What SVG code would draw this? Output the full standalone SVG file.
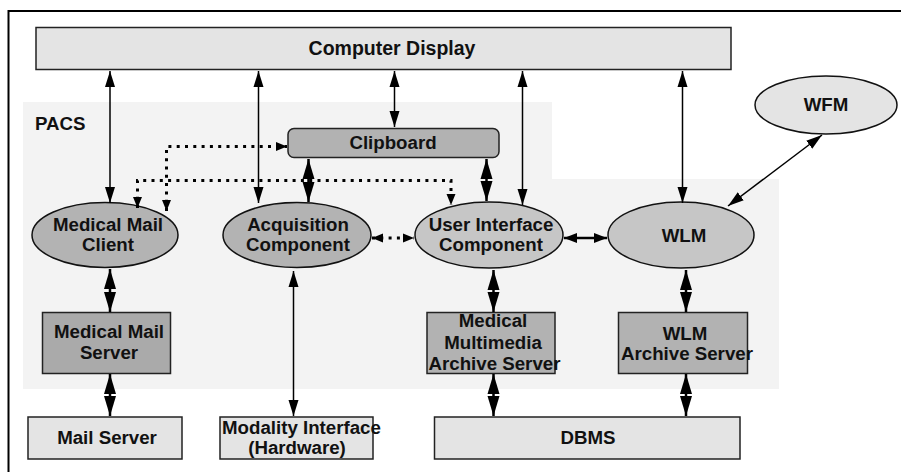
<svg xmlns="http://www.w3.org/2000/svg" width="901" height="472" viewBox="0 0 901 472">
<style>
text{font-family:"Liberation Sans",Arial,Helvetica,sans-serif;font-weight:bold;font-size:18.7px;fill:#111;text-anchor:middle}
.light{fill:#e4e4e4;stroke:#222;stroke-width:1.5}
.dark{fill:#aaaaaa;stroke:#222;stroke-width:1.5}
.mid{fill:#b2b2b2;stroke:#222;stroke-width:1.5}
.ell1{fill:#b3b3b3;stroke:#111;stroke-width:1.5}
.ell2{fill:#c6c6c6;stroke:#111;stroke-width:1.5}
.thin{stroke:#000;stroke-width:1.5;fill:none;marker-start:url(#a);marker-end:url(#a)}
.thick{stroke:#000;stroke-width:2.5;fill:none;marker-start:url(#b);marker-end:url(#b)}
.med{stroke:#000;stroke-width:2.5;fill:none;marker-start:url(#c);marker-end:url(#c)}
.dot{stroke:#000;stroke-width:3;fill:none;stroke-dasharray:3 5.3;marker-start:url(#d);marker-end:url(#d)}
</style>
<defs>
<marker id="a" markerUnits="userSpaceOnUse" markerWidth="17" markerHeight="11" refX="16" refY="5.5" orient="auto-start-reverse"><path d="M0,0.5 L16,5.5 L0,10.5 z" fill="#000"/></marker>
<marker id="b" markerUnits="userSpaceOnUse" markerWidth="21" markerHeight="13" refX="20" refY="6.5" orient="auto-start-reverse"><path d="M0,0.5 L20,6.5 L0,12.5 z" fill="#000"/></marker>
<marker id="c" markerUnits="userSpaceOnUse" markerWidth="14" markerHeight="11" refX="13" refY="5.5" orient="auto-start-reverse"><path d="M0,0.5 L13,5.5 L0,10.5 z" fill="#000"/></marker>
<marker id="d" markerUnits="userSpaceOnUse" markerWidth="12" markerHeight="11" refX="11" refY="5.5" orient="auto-start-reverse"><path d="M0,1 L11,5.5 L0,10 z" fill="#000"/></marker>
</defs>
<rect width="901" height="472" fill="#fff"/>
<path d="M8.5,472 V11 H901" fill="none" stroke="#000" stroke-width="2"/>
<g id="pacs">
<path d="M23,102 H552 V179 H779 V389 H23 z" fill="#f3f3f3"/>
<text x="35" y="130" style="text-anchor:start">PACS</text>
</g>
<g id="computer-display">
<rect class="light" x="36" y="27.5" width="695" height="42"/>
<text x="392" y="55" style="font-size:19.5px">Computer Display</text>
</g>
<g id="clipboard">
<rect class="mid" x="288" y="128.5" width="211" height="29" rx="6"/>
<text x="393" y="149">Clipboard</text>
</g>
<g id="wfm">
<ellipse cx="826" cy="105" rx="71" ry="29" fill="#e4e4e4" stroke="#111" stroke-width="1.5"/>
<text x="826" y="111">WFM</text>
</g>
<g id="medical-mail-client">
<ellipse class="ell1" cx="105" cy="235" rx="73" ry="32.5"/>
<text x="108" y="231">Medical Mail</text>
<text x="108" y="251">Client</text>
</g>
<g id="acquisition">
<ellipse class="ell1" cx="297" cy="235" rx="74" ry="32.5"/>
<text x="298" y="231">Acquisition</text>
<text x="298" y="251">Component</text>
</g>
<g id="user-interface">
<ellipse class="ell2" cx="489" cy="235" rx="74" ry="33"/>
<text x="491" y="231">User Interface</text>
<text x="491" y="251">Component</text>
</g>
<g id="wlm">
<ellipse class="ell2" cx="681" cy="235" rx="73" ry="33"/>
<text x="684" y="242">WLM</text>
</g>
<g id="medical-mail-server">
<rect class="dark" x="42.5" y="312.5" width="128" height="61"/>
<text x="109" y="338">Medical Mail</text>
<text x="109" y="359">Server</text>
</g>
<g id="mm-archive-server">
<rect class="mid" x="427" y="312.5" width="128" height="61"/>
<text x="493" y="327">Medical</text>
<text x="493" y="349">Multimedia</text>
<text x="428.5" y="370" style="text-anchor:start">Archive Server</text>
</g>
<g id="wlm-archive-server">
<rect class="mid" x="618.5" y="312.5" width="129" height="61"/>
<text x="685" y="340">WLM</text>
<text x="621" y="360" style="text-anchor:start">Archive Server</text>
</g>
<g id="mail-server">
<rect class="light" x="28" y="417" width="154" height="42"/>
<text x="107" y="444">Mail Server</text>
</g>
<g id="modality-interface">
<rect class="light" x="220" y="417" width="153" height="42"/>
<text x="222" y="434" style="text-anchor:start">Modality Interface</text>
<text x="297" y="454">(Hardware)</text>
</g>
<g id="dbms">
<rect class="light" x="434.5" y="417" width="305.5" height="42"/>
<text x="588" y="444">DBMS</text>
</g>
<g id="connectors">
<line class="thin" x1="110" y1="71" x2="110" y2="203"/>
<line class="thin" x1="258.5" y1="71" x2="258.5" y2="203"/>
<line class="thin" x1="394.5" y1="71" x2="394.5" y2="127"/>
<line class="thin" x1="522.5" y1="71" x2="522.5" y2="205"/>
<line class="thin" x1="682.5" y1="71" x2="682.5" y2="203"/>
<line class="thin" x1="822" y1="135" x2="728" y2="206"/>
<line class="thin" x1="293.5" y1="271" x2="293.5" y2="416"/>
<line class="thick" x1="308.5" y1="159" x2="308.5" y2="202"/>
<line class="thick" x1="486.5" y1="159" x2="486.5" y2="201"/>
<line class="thick" x1="110" y1="269" x2="110" y2="312"/>
<line class="thick" x1="110" y1="374" x2="110" y2="416"/>
<line class="thick" x1="493.5" y1="270" x2="493.5" y2="312"/>
<line class="thick" x1="493.5" y1="374" x2="493.5" y2="416"/>
<line class="thick" x1="686" y1="270" x2="686" y2="312"/>
<line class="thick" x1="686" y1="374" x2="686" y2="416"/>
<line class="med" x1="564" y1="238" x2="607" y2="238"/>
<line class="dot" x1="372" y1="238" x2="414" y2="238"/>
<path class="dot" d="M166.5,211 V146.5 H287"/>
<path class="dot" d="M137.5,208 V180.5 H451 V205"/>
</g>
</svg>
